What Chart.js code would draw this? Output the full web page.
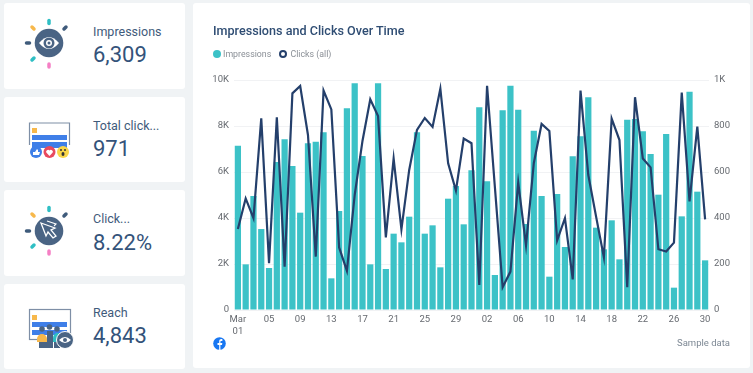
<!DOCTYPE html>
<html>
<head>
<meta charset="utf-8">
<script src="https://cdn.jsdelivr.net/npm/chart.js@4"></script>
<style>
    html, body { margin:0; padding:0; width:753px; height:373px; overflow:hidden; background:#f0f3f5; font-family:Roboto, sans-serif; }
    .card { position:absolute; background:#fff; border-radius:3px; }
    .kpi { left:4px; width:181px; }
    .kpi svg { position:absolute; left:0; top:0; }
    .kpi .name { position:absolute; left:89px; top:21px; font-size:12.5px; line-height:16px; color:#3f5b7b; white-space:nowrap; }
    .kpi .num { position:absolute; left:89px; top:38px; font-size:22px; line-height:28px; color:#34537a; white-space:nowrap; }
    #chart-card { left:193px; top:3px; width:557px; height:365px; }
    #chart-card canvas { position:absolute; left:0; top:0; }
    #title { position:absolute; left:20px; top:20px; font-size:12.6px; line-height:16px; font-weight:500; color:#2f4d73; white-space:nowrap; }
    #legend { position:absolute; left:20px; top:45px; font-size:8.8px; line-height:13px; color:#8a8f96; white-space:nowrap; }
    #legend span { display:inline-block; vertical-align:top; }
    #legend i { display:inline-block; box-sizing:border-box; width:8px; height:8px; border-radius:50%; margin:2px 2px 0 0; vertical-align:top; }
    #note { position:absolute; right:20px; top:333px; font-size:9.5px; line-height:13px; color:#7d8894; }
    #fb { position:absolute; left:20px; top:334px; }
</style>
</head>
<body>
<div class="card kpi" style="top:3px; height:86px;">
    <svg width="90" height="86">
        <g stroke-width="3.500" stroke-linecap="round">
            <path d="M45 17.500v3" stroke="#2fbfc4"/><path d="M62 24l-2 2" stroke="#3f5b7b"/><path d="M28 24l2 2" stroke="#f7b84b"/>
            <path d="M22.500 40h3" stroke="#3f5b7b"/><path d="M28 57l2 -2" stroke="#2fbfc4"/><path d="M45 61v3" stroke="#f57fc4"/>
        </g>
        <circle cx="45" cy="40" r="14.300" fill="#4a6484"/>
        <path d="M35 40q10 -12 20 0q-10 12 -20 0z" fill="#fff"/>
        <circle cx="45" cy="40" r="5.500" fill="#4a6484"/><circle cx="45" cy="40" r="3" fill="#fff"/><circle cx="45" cy="40" r="1.500" fill="#4a6484"/>
    </svg>
    <div class="name">Impressions</div><div class="num">6,309</div>
</div>
<div class="card kpi" style="top:97px; height:85px;">
    <svg width="90" height="85">
        <path d="M25.500 48v-22h40v22" fill="#fff" stroke="#7e8fa6" stroke-width="1.200"/>
        <rect x="28" y="31" width="5" height="5" fill="#f7b84b"/>
        <rect x="28" y="38" width="35" height="5" fill="#3f7fe8"/><rect x="28" y="45" width="35" height="6" fill="#3f7fe8"/>
        <circle cx="32" cy="55" r="6" fill="#3f7fe8"/><path d="M29 55h2l2 -3 1 1v2h2l-1 3h-6z" fill="#fff"/>
        <circle cx="45.500" cy="55" r="6" fill="#e84a5f"/><path d="M45.500 59l-3.200 -3.400a1.900 1.900 0 0 1 3.200 -2a1.900 1.900 0 0 1 3.200 2z" fill="#fff"/>
        <circle cx="59" cy="55" r="6" fill="#f9d648"/><circle cx="57" cy="53" r="1" fill="#333"/><circle cx="61" cy="53" r="1" fill="#333"/><ellipse cx="59" cy="57" rx="1.500" ry="2" fill="#333"/>
    </svg>
    <div class="name">Total click...</div><div class="num">971</div>
</div>
<div class="card kpi" style="top:190px; height:86px;">
    <svg width="90" height="86">
        <g stroke-width="3.500" stroke-linecap="round">
            <path d="M45 17.500v3" stroke="#2fbfc4"/><path d="M62 24l-2 2" stroke="#3f5b7b"/><path d="M28 24l2 2" stroke="#f7b84b"/>
            <path d="M22.500 41h3" stroke="#3f5b7b"/><path d="M28 57l2 -2" stroke="#2fbfc4"/><path d="M45 61v3" stroke="#f57fc4"/>
        </g>
        <circle cx="45" cy="41" r="14.300" fill="#4a6484"/>
        <path d="M37 33l14 5 -4 2 5 6 -3 2 -5 -6 -2 4z" fill="none" stroke="#fff" stroke-width="1.300"/>
        <path d="M43 31l9 3 -2 2" fill="none" stroke="#fff" stroke-width="1.100"/>
    </svg>
    <div class="name">Click...</div><div class="num" style="top:39px;">8.22%</div>
</div>
<div class="card kpi" style="top:284px; height:85px;">
    <svg width="90" height="85">
        <rect x="25.500" y="25.500" width="41" height="30" fill="#fff" stroke="#7e8fa6" stroke-width="1.200"/>
        <rect x="28" y="31" width="5" height="5" fill="#f7b84b"/>
        <rect x="28" y="38" width="35" height="5" fill="#3f7fe8"/><rect x="28" y="46" width="35" height="5" fill="#3f7fe8"/>
        <circle cx="38" cy="45" r="2.800" fill="#4a6484"/><rect x="35" y="56" width="9" height="8" fill="#4a6484"/>
        <path d="M33 58v-3a5 5 0 0 1 10 0v3z" fill="#f7b84b"/>
        <circle cx="45.500" cy="43" r="2.800" fill="#4a6484"/><rect x="43" y="47" width="6" height="17" fill="#4a6484"/>
        <circle cx="53" cy="45" r="2.800" fill="#4a6484"/><path d="M49 58v-4a4.500 5 0 0 1 9 0v4z" fill="#2fbfc4"/><rect x="50" y="58" width="6" height="6" fill="#4a6484"/>
        <circle cx="61" cy="56" r="8.500" fill="#4a6484" stroke="#fff"/>
        <path d="M55 56q6 -6 12 0q-6 6 -12 0z" fill="#fff"/><circle cx="61" cy="56" r="2" fill="#4a6484"/>
    </svg>
    <div class="name">Reach</div><div class="num">4,843</div>
</div>
<div class="card" id="chart-card">
    <canvas id="combo" width="557" height="365"></canvas>
    <div id="title"></div>
    <div id="legend"></div>
    <svg id="fb" width="13" height="13"><circle cx="6.500" cy="6.500" r="6.300" fill="#1877f2"/><path d="M7.400 13v-5h1.600l.3-2h-1.900v-1.100c0 -.6.3 -1 1 -1h1v-1.700c-1.900 -.3 -3.200 .2 -3.200 2.400v1.400h-1.700v2h1.700v5z" fill="#fff"/></svg>
    <div id="note">Sample data</div>
</div>
<script>
const chartTitle = 'Impressions and Clicks Over Time';
const seriesNames = ['Impressions', 'Clicks (all)'];

// Mar 01 .. Apr 30
const days = [
    '01','02','03','04','05','06','07','08','09','10','11','12','13','14','15','16','17','18','19','20','21','22','23','24','25','26','27','28','29','30','31',
    '01','02','03','04','05','06','07','08','09','10','11','12','13','14','15','16','17','18','19','20','21','22','23','24','25','26','27','28','29','30'
];

const impressions = [
    7145,1985,4957,3520,1826,6435,7420,6260,4232,7246,7319,7725,1377,4304,8768,9855,6696,1985,9855,1783,3319,2942,4058,7725,3319,3681,1855,4840,5391,3725,6072,
    8812,5594,1522,8681,9754,8710,3739,7797,4957,1449,5043,2739,6681,7551,9246,3580,2638,3899,2203,8275,8304,7768,6783,5014,7652,971,4072,9493,5145,2159
];

const clicks = [
    352,485,399,833,203,838,188,942,974,761,232,954,872,272,170,500,735,916,843,316,658,351,609,783,835,796,962,638,519,745,725,
    109,975,536,99,167,554,281,638,809,778,303,399,133,954,587,406,229,832,739,99,925,659,620,264,254,293,945,472,797,394
];

const leftTicks = { 0:'0', 2000:'2K', 4000:'4K', 6000:'6K', 8000:'8K', 10000:'10K' };
const rightTicks = { 0:'0', 200:'200', 400:'400', 600:'600', 800:'800', 1000:'1K' };

const barColor = '#3cc2c7';
const lineColor = '#243f6b';
const tickFont = { family:'Roboto', size:9.5, lineHeight:1.25 };
const tickColor = '#666a70';

document.getElementById('title').textContent = chartTitle;
document.getElementById('legend').innerHTML = `
    <span style="margin-right:6px;"><i style="background:${barColor};"></i>${seriesNames[0]}</span>
    <span><i style="border:2px solid ${lineColor}; margin-right:3px;"></i>${seriesNames[1]}</span>
`;

new Chart(document.getElementById('combo'), {
    type: 'bar',
    data: {
        labels: days,
        datasets: [
            { type:'bar', label:seriesNames[0], data:impressions, yAxisID:'y', backgroundColor:barColor, borderWidth:0, barPercentage:0.8, categoryPercentage:1, order:2 },
            { type:'line', label:seriesNames[1], data:clicks, yAxisID:'y1', borderColor:lineColor, borderWidth:2.2, pointRadius:0, tension:0, order:1 }
        ]
    },
    options: {
        responsive: false,
        animation: false,
        layout: { padding: { top:77 } },
        plugins: { legend: { display:false }, tooltip: { enabled:false } },
        scales: {
            x: {
                grid: { display:false, drawTicks:false },
                border: { display:false },
                afterFit: s => { s.height = 58; },
                ticks: {
                    autoSkip:false, maxRotation:0, padding:4, color:tickColor, font:tickFont,
                    callback: (v, i) => i === 0 ? ['Mar', days[i]] : (i % 4 === 0 ? days[i] : '')
                }
            },
            y: {
                position:'left', min:0, max:10000,
                grid: { color:'#f1f2f4', drawTicks:false },
                border: { display:false },
                afterFit: s => { s.width = 41; },
                ticks: { stepSize:2000, padding:5, color:tickColor, font:tickFont, callback: v => leftTicks[v] }
            },
            y1: {
                position:'right', min:0, max:1000,
                grid: { display:false, drawTicks:false },
                border: { display:false },
                afterFit: s => { s.width = 41; },
                ticks: { stepSize:200, padding:5, color:tickColor, font:tickFont, callback: v => rightTicks[v] }
            }
        }
    }
});
</script>
</body>
</html>
